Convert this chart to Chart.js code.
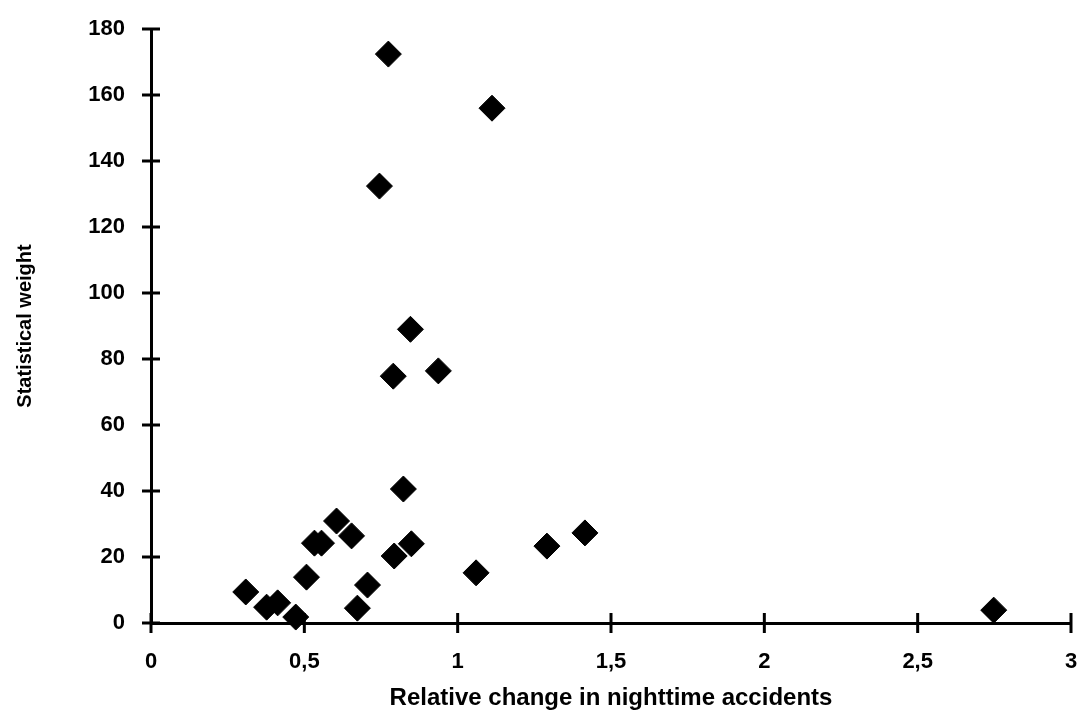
<!DOCTYPE html>
<html>
<head>
<meta charset="utf-8">
<script src="https://cdn.jsdelivr.net/npm/chart.js@4.4.1/dist/chart.umd.min.js"></script>
<style>
  html, body { margin: 0; padding: 0; background: #fff; }
  canvas { display: block; }
</style>
</head>
<body>
<canvas id="chart" width="1085" height="715"></canvas>
<script>
// values
const relChange = [0.774, 1.112, 0.745, 0.846, 0.790, 0.937, 0.823, 0.605, 0.654, 0.533, 0.556, 0.849,
                   0.793, 0.507, 0.706, 0.309, 0.377, 0.413, 0.472, 0.673, 1.291, 1.415, 1.060, 2.748];
const statWeight = [172.4, 156, 132.4, 89, 74.8, 76.4, 40.6, 30.9, 26.4, 24.2, 24.2, 24,
                    20.3, 13.9, 11.5, 9.4, 4.8, 6.1, 1.8, 4.5, 23.3, 27.3, 15.2, 3.9];

const xTitle = 'Relative change in nighttime accidents';
const yTitle = 'Statistical weight';

const points = relChange.map((x, i) => ({ x: x, y: statWeight[i] }));

// tick marks that cross the axis line on both sides
const crossTicks = {
  id: 'crossTicks',
  beforeDatasetsDraw(chart) {
    const { ctx, scales: { x, y } } = chart;
    ctx.save();
    ctx.strokeStyle = '#000';
    ctx.lineWidth = 3;
    x.ticks.forEach(t => {
      const px = x.getPixelForValue(t.value);
      ctx.beginPath();
      ctx.moveTo(px, y.bottom - 10);
      ctx.lineTo(px, y.bottom + 10);
      ctx.stroke();
    });
    y.ticks.forEach(t => {
      const py = y.getPixelForValue(t.value);
      ctx.beginPath();
      ctx.moveTo(x.left - 9, py);
      ctx.lineTo(x.left + 9, py);
      ctx.stroke();
    });
    ctx.restore();
  }
};

const fam = "'Liberation Sans', Arial, sans-serif";
const tickFont = { family: fam, size: 22, weight: 'bold' };
const comma = v => String(v).replace('.', ',');

new Chart(document.getElementById('chart'), {
  type: 'scatter',
  data: {
    datasets: [{
      data: points,
      pointStyle: 'rectRot',
      pointRadius: 13,
      backgroundColor: '#000',
      borderColor: '#000',
      borderWidth: 1,
      clip: false
    }]
  },
  options: {
    responsive: false,
    animation: false,
    layout: { padding: { top: 29, right: 12, left: 0, bottom: 0 } },
    plugins: { legend: { display: false }, tooltip: { enabled: false } },
    scales: {
      x: {
        type: 'linear',
        min: 0,
        max: 3,
        ticks: { stepSize: 0.5, color: '#000', font: tickFont, padding: 26, callback: comma, maxRotation: 0 },
        grid: { display: false, drawTicks: false },
        border: { display: true, color: '#000', width: 3 },
        title: {
          display: true,
          text: xTitle,
          color: '#000',
          font: { family: fam, size: 24, weight: 'bold' },
          padding: { top: 3, bottom: 2 }
        },
        afterFit: s => { s.height = 92; s.paddingLeft = 0; s.paddingRight = 0; }
      },
      y: {
        min: 0,
        max: 180,
        ticks: { stepSize: 20, color: '#000', font: tickFont, padding: 26 },
        grid: { display: false, drawTicks: false },
        border: { display: true, color: '#000', width: 3 },
        title: {
          display: true,
          text: yTitle,
          color: '#000',
          font: { family: fam, size: 20, weight: 'bold' },
          padding: { top: 13, bottom: 0 }
        },
        afterFit: s => { s.width = 151; s.paddingTop = 0; s.paddingBottom = 0; }
      }
    }
  },
  plugins: [crossTicks]
});
</script>
</body>
</html>
